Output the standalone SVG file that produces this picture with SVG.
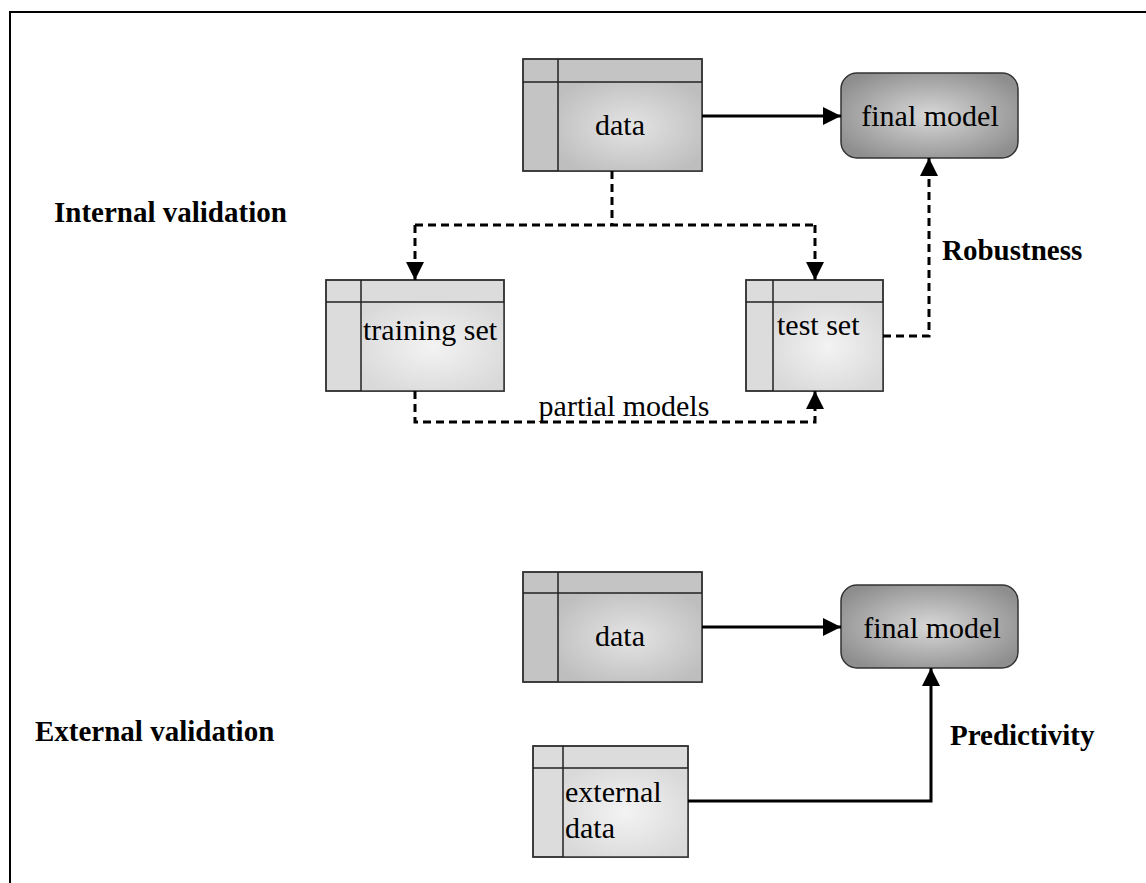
<svg xmlns="http://www.w3.org/2000/svg" width="1146" height="883" viewBox="0 0 1146 883">
<defs>
<radialGradient id="gDark" cx="0.5" cy="0.5" r="0.6">
<stop offset="0" stop-color="#e4e4e4"/>
<stop offset="1" stop-color="#bebebe"/>
</radialGradient>
<radialGradient id="gLight" cx="0.5" cy="0.5" r="0.6">
<stop offset="0" stop-color="#f3f3f3"/>
<stop offset="1" stop-color="#d9d9d9"/>
</radialGradient>
<radialGradient id="gModel" cx="0.5" cy="0.5" r="0.6">
<stop offset="0" stop-color="#d8d8d8"/>
<stop offset="1" stop-color="#8e8e8e"/>
</radialGradient>
<marker id="ah" viewBox="0 0 18 18" refX="18" refY="9" markerWidth="18" markerHeight="18" markerUnits="userSpaceOnUse" orient="auto" overflow="visible">
<path d="M0,0 L18,9 L0,18 z" fill="#000"/>
</marker>
<style>
.frame{stroke:#000;stroke-width:2;fill:none}
.box{stroke:#333;stroke-width:1.5}
.hdrD{fill:#c4c4c4;stroke:#333;stroke-width:1.5}
.hdrL{fill:#dcdcdc;stroke:#333;stroke-width:1.5}
.ln{stroke:#222;stroke-width:1.5;fill:none}
.t{font-family:"Liberation Serif","Times New Roman",serif;font-size:30px;fill:#000}
.b{font-family:"Liberation Serif","Times New Roman",serif;font-size:29px;font-weight:bold;fill:#000}
.solid{stroke:#000;stroke-width:3;fill:none}
.dash{stroke:#000;stroke-width:3;fill:none;stroke-dasharray:8 5}
</style>
</defs>
<rect width="1146" height="883" fill="#fff"/>
<path class="frame" d="M10,883 L10,12 L1146,12"/>

<g id="data1">
<rect class="hdrD" x="523" y="59" width="179" height="112"/>
<rect x="558" y="82" width="144" height="89" fill="url(#gDark)"/>
<rect class="box" x="523" y="59" width="179" height="112" fill="none"/>
<path class="ln" d="M523,82 H702 M558,59 V171"/>
<text class="t" x="620" y="135" text-anchor="middle">data</text>
</g>

<g id="final1">
<rect class="box" x="841" y="73" width="177" height="85" rx="16" fill="url(#gModel)"/>
<text class="t" x="930" y="126" text-anchor="middle">final model</text>
</g>

<g id="training">
<rect class="hdrL" x="326" y="280" width="178" height="111"/>
<rect x="361" y="302" width="143" height="89" fill="url(#gLight)"/>
<rect class="box" x="326" y="280" width="178" height="111" fill="none"/>
<path class="ln" d="M326,302 H504 M361,280 V391"/>
<text class="t" x="363" y="340">training set</text>
</g>

<g id="test">
<rect class="hdrL" x="746" y="280" width="137" height="111"/>
<rect x="773" y="302" width="110" height="89" fill="url(#gLight)"/>
<rect class="box" x="746" y="280" width="137" height="111" fill="none"/>
<path class="ln" d="M746,302 H883 M773,280 V391"/>
<text class="t" x="777" y="335">test set</text>
</g>

<g id="data2">
<rect class="hdrD" x="523" y="572" width="179" height="110"/>
<rect x="558" y="593" width="144" height="89" fill="url(#gDark)"/>
<rect class="box" x="523" y="572" width="179" height="110" fill="none"/>
<path class="ln" d="M523,593 H702 M558,572 V682"/>
<text class="t" x="620" y="646" text-anchor="middle">data</text>
</g>

<g id="final2">
<rect class="box" x="841" y="585" width="177" height="83" rx="16" fill="url(#gModel)"/>
<text class="t" x="932" y="638" text-anchor="middle">final model</text>
</g>

<g id="external">
<rect class="hdrL" x="533" y="746" width="155" height="111"/>
<rect x="563" y="768" width="125" height="89" fill="url(#gLight)"/>
<rect class="box" x="533" y="746" width="155" height="111" fill="none"/>
<path class="ln" d="M533,768 H688 M563,746 V857"/>
<text class="t" x="565" y="802">external</text>
<text class="t" x="565" y="838">data</text>
</g>

<g id="labels">
<text class="b" x="54" y="222">Internal validation</text>
<text class="b" x="942" y="260">Robustness</text>
<text class="b" x="35" y="741">External validation</text>
<text class="b" x="950" y="745">Predictivity</text>
<text class="t" x="624" y="416" text-anchor="middle">partial models</text>
</g>

<g id="connectors">
<path class="solid" d="M702,116 H841" marker-end="url(#ah)"/>
<path class="dash" d="M612,171 V225 M415,225 H815"/>
<path class="dash" d="M415,225 V280" marker-end="url(#ah)"/>
<path class="dash" d="M815,225 V280" marker-end="url(#ah)"/>
<path class="dash" d="M415,391 V422 H815 V391" marker-end="url(#ah)"/>
<path class="dash" d="M883,336 H929 V158" marker-end="url(#ah)"/>
<path class="solid" d="M702,627 H841" marker-end="url(#ah)"/>
<path class="solid" d="M688,801 H931 V668" marker-end="url(#ah)"/>
</g>
</svg>
